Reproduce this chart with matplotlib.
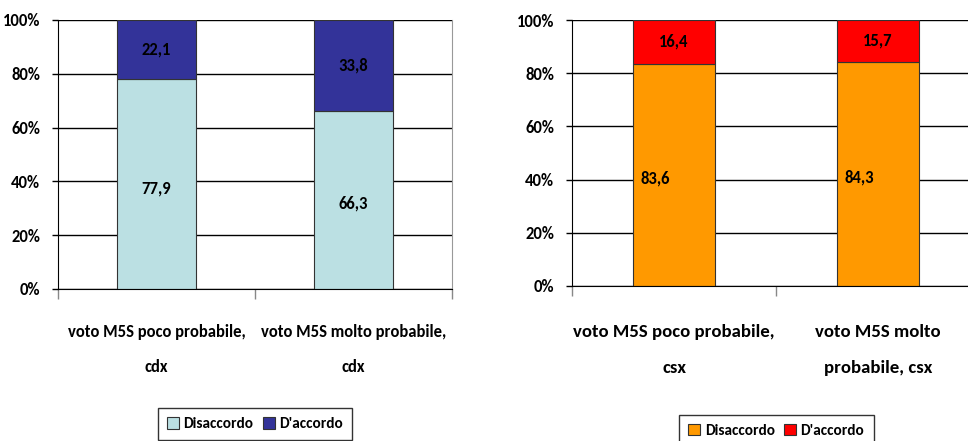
import matplotlib
matplotlib.use("Agg")
import matplotlib.pyplot as plt
from matplotlib.patches import Patch
from matplotlib.ticker import PercentFormatter

plt.rcParams['font.family'] = ['Carlito', 'Liberation Sans', 'DejaVu Sans']
plt.rcParams['font.weight'] = 'bold'

# dati
cat_cdx = ["voto M5S poco probabile,\ncdx", "voto M5S molto probabile,\ncdx"]
cat_csx = ["voto M5S poco probabile,\ncsx", "voto M5S molto\nprobabile, csx"]
disaccordo_cdx = [77.9, 66.3]
accordo_cdx = [22.1, 33.8]
disaccordo_csx = [83.6, 84.3]
accordo_csx = [16.4, 15.7]
serie = ["Disaccordo", "D'accordo"]
yticks = [0, 20, 40, 60, 80, 100]

fig = plt.figure(figsize=(9.68, 4.41), dpi=100)
ax1 = fig.add_axes([0.0599, 0.3447, 0.407, 0.61])
ax2 = fig.add_axes([0.591, 0.3515, 0.4215, 0.603])


def grafico(ax, cats, dis, acc, c_dis, c_acc, cat_size, cat_pad, cat_ls, leg_y, shift_low):
    x = list(range(len(cats)))
    tot = [d + a for d, a in zip(dis, acc)]
    d_pct = [100 * d / t for d, t in zip(dis, tot)]
    a_pct = [100 * a / t for a, t in zip(acc, tot)]
    ax.set_axisbelow(True)
    ax.bar(x, d_pct, width=0.4, color=c_dis, edgecolor='#333333', linewidth=0.8)
    ax.bar(x, a_pct, width=0.4, bottom=d_pct, color=c_acc, edgecolor='#333333', linewidth=0.8)
    for i in x:
        ax.text(i + shift_low, d_pct[i] / 2 - 1.5, f"{dis[i]:.1f}".replace('.', ','),
                ha='center', va='center', fontsize=12, fontweight='bold')
        ax.text(i, d_pct[i] + a_pct[i] / 2, f"{acc[i]:.1f}".replace('.', ','),
                ha='center', va='center', fontsize=12, fontweight='bold')
    ax.set_xlim(-0.5, len(cats) - 0.5)
    ax.set_ylim(0, 100)
    ax.set_yticks(yticks)
    ax.yaxis.set_major_formatter(PercentFormatter(decimals=0))
    ax.grid(axis='y', color='black', linewidth=1)
    ax.tick_params(axis='y', length=4, width=1, pad=9, labelsize=12)
    ax.set_xticks(x)
    ax.set_xticklabels(cats, fontsize=cat_size, linespacing=cat_ls)
    ax.set_xticks([i - 0.5 for i in range(len(cats) + 1)], minor=True)
    ax.tick_params(axis='x', which='major', length=0, pad=cat_pad)
    ax.tick_params(axis='x', which='minor', length=7, color='#888888', width=1)
    ax.spines['top'].set_visible(False)
    ax.spines['right'].set_color('#999999')
    ax.spines['left'].set_color('black')
    ax.spines['bottom'].set_color('black')
    handles = [Patch(facecolor=c_dis, edgecolor='#333333', linewidth=0.8),
               Patch(facecolor=c_acc, edgecolor='#333333', linewidth=0.8)]
    leg = ax.legend(handles, serie, loc='upper center', bbox_to_anchor=(0.5, leg_y),
                    ncol=2, fancybox=False, frameon=True, edgecolor='black',
                    handlelength=0.8, handleheight=0.8, handletextpad=0.3,
                    columnspacing=0.6, borderpad=0.6, prop={'size': 11, 'weight': 'bold'})
    leg.get_frame().set_linewidth(1)


grafico(ax1, cat_cdx, disaccordo_cdx, accordo_cdx, '#BBE0E3', '#333399', 12, 25, 2.45, -0.413, 0)
grafico(ax2, cat_csx, disaccordo_csx, accordo_csx, '#FF9900', '#FF0000', 13.5, 27.5, 2.55, -0.455, -0.09)

fig.savefig("out.png", dpi=100)
